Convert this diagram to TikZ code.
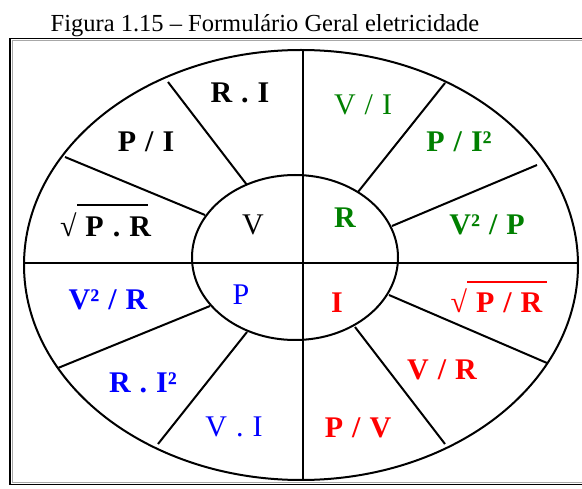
\documentclass[tikz,border=0pt]{standalone}
\usepackage{fontspec}
\setmainfont{Liberation Serif}
\usetikzlibrary{positioning}
\definecolor{formgreen}{HTML}{008000}
\definecolor{formblue}{HTML}{0000FF}
\definecolor{formred}{HTML}{FF0000}
\definecolor{frameshade}{HTML}{A8A8A8}
\newcommand\lblfont{\fontsize{30}{32}\selectfont\spaceskip=0.3em\relax}
\tikzset{
  rim/.style={line width=2pt},
  spoke/.style={line width=2pt},
  rootbar/.style={line width=2pt},
  lbl/.style={inner sep=0pt,anchor=base,font=\lblfont},
  boldlbl/.style={lbl,font=\lblfont\bfseries},
  titletext/.style={inner sep=0pt,anchor=base,font=\fontsize{24.5}{26}\selectfont}
}

\begin{document}
\begin{tikzpicture}[x=1pt,y=-1pt]
  \useasboundingbox (0,0) rectangle (582,489);
  \node[titletext] (title) at (265,32) {Figura 1.15 – Formulário Geral eletricidade};
  % frame
  \draw[frameshade,line width=0.8pt] (12,40.5) rectangle (596,482.5);
  \draw[line width=1.6pt] (10,38.5) rectangle (598,484.5);
  % wheel
  \draw[rim] (301,265) ellipse [x radius=277, y radius=215];
  \draw[rim] (295,257.5) ellipse [x radius=103, y radius=82.5];
  \draw[rim] (24,263) -- (578,263);
  \draw[rim] (303,49) -- (303,480);
  \draw[spoke] (247,185) -- (168,82);
  \draw[spoke] (205,215) -- (65,157);
  \draw[spoke] (358,192) -- (445,83);
  \draw[spoke] (392,226) -- (537,165);
  \draw[spoke] (210,306) -- (58,368);
  \draw[spoke] (247,332) -- (158,444);
  \draw[spoke] (389,295) -- (547,363);
  \draw[spoke] (355,327) -- (445,444);
  % V
  \node[lbl] (vc) at (253,235) {V};
  \node[boldlbl] (ri) at (240,103) {R . I};
  \node[boldlbl] (pi) at (146,152) {P / I};
  \node[boldlbl] (sqpr) at (105.5,237) {{\mdseries √}\hspace{0.3em}P . R};
  \draw[rootbar] (77,205) -- (148,205);
  % R
  \node[boldlbl,formgreen] (rc) at (345,228) {R};
  \node[lbl,formgreen] (vi) at (363,115) {V / I};
  \node[boldlbl,formgreen] (pii) at (459,152) {P / I²};
  \node[boldlbl,formgreen] (vvp) at (487,235) {V² / P};
  % P
  \node[lbl,formblue] (pc) at (241,305) {P};
  \node[boldlbl,formblue] (vvr) at (108,310) {V² / R};
  \node[boldlbl,formblue] (rii) at (143,393) {R . I²};
  \node[lbl,formblue] (vdi) at (234,437) {V . I};
  % I
  \node[boldlbl,formred] (ic) at (337,313) {I};
  \node[boldlbl,formred] (sqpdr) at (496.5,313) {{\mdseries √}\hspace{0.3em}P / R};
  \draw[rootbar,formred] (467,282) -- (547,282);
  \node[boldlbl,formred] (vr) at (442,380) {V / R};
  \node[boldlbl,formred] (pv) at (358,438) {P / V};
\end{tikzpicture}
\end{document}
